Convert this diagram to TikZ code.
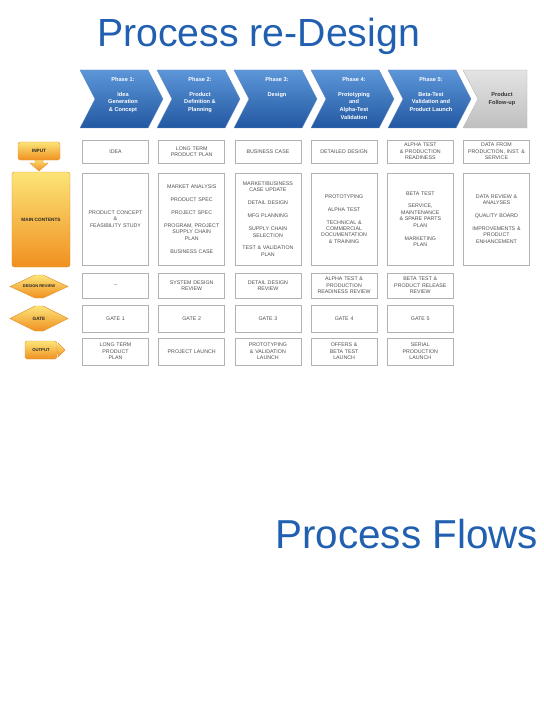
\documentclass[tikz,border=0pt]{standalone}
\usepackage{fontspec}
\setmainfont{Liberation Sans}
\definecolor{titleblue}{RGB}{33,96,176}
\definecolor{phasetop}{RGB}{92,150,216}
\definecolor{phasebot}{RGB}{34,88,162}
\definecolor{celltext}{RGB}{80,80,80}
\definecolor{iconyellow}{RGB}{252,228,120}
\definecolor{iconorange}{RGB}{240,144,32}
\definecolor{iconedge}{RGB}{228,150,50}
\tikzset{
  phase/.style={top color=phasetop, bottom color=phasebot, draw=phasebot!70!white, line width=0.3pt},
  follow/.style={top color=gray!22, bottom color=gray!50, draw=gray!60, line width=0.3pt},
  phasetext/.style={text=white, font=\fontsize{4.8}{6.6}\selectfont\bfseries, align=center, anchor=north, inner sep=0pt},
  cell/.style={draw=gray!60, fill=white, line width=0.6pt, minimum width=19.8mm, text width=18.6mm,
    align=center, inner sep=0pt, text=celltext, font=\fontsize{4.5}{5.5}\selectfont},
  inputcell/.style={cell, minimum height=6.9mm},
  maincell/.style={cell, minimum height=27.6mm},
  reviewcell/.style={cell, minimum height=7.5mm},
  gatecell/.style={cell, minimum height=8.1mm},
  outputcell/.style={cell, minimum height=8.1mm},
  icon/.style={top color=iconyellow, bottom color=iconorange, draw=iconedge, line width=0.4pt},
  icontext/.style={font=\fontsize{4}{5}\selectfont\bfseries, text=black!85, inner sep=0pt},
  heading/.style={text=titleblue, font=\fontsize{33.5}{40}\selectfont, inner sep=0pt, anchor=base west}
}
\begin{document}
\begin{tikzpicture}[x=0.3mm, y=-0.3mm]
  \useasboundingbox (0,0) rectangle (543,727);
  % titles
  \node[heading] (title) at (97,47) {Process re-Design};
  \node[heading, font=\fontsize{34.5}{40}\selectfont] (flows) at (275,548) {Process Flows};
  % phase arrows
  \draw[phase] (80,70) -- (148,70) -- (163,99) -- (148,128) -- (80,128) -- (95,99) -- cycle;
  \node[phasetext] (ph1) at (123,77) {Phase 1:\\[6pt]Idea\\Generation\\\& Concept};
  \draw[phase] (157,70) -- (225,70) -- (240,99) -- (225,128) -- (157,128) -- (172,99) -- cycle;
  \node[phasetext] (ph2) at (200,77) {Phase 2:\\[6pt]Product\\Definition \&\\Planning};
  \draw[phase] (234,70) -- (302,70) -- (317,99) -- (302,128) -- (234,128) -- (249,99) -- cycle;
  \node[phasetext] (ph3) at (277,77) {Phase 3:\\[6pt]Design};
  \draw[phase] (311,70) -- (379,70) -- (394,99) -- (379,128) -- (311,128) -- (326,99) -- cycle;
  \node[phasetext] (ph4) at (354,77) {Phase 4:\\[6pt]Prototyping\\and\\Alpha-Test\\Validation};
  \draw[phase] (388,70) -- (456,70) -- (471,99) -- (456,128) -- (388,128) -- (403,99) -- cycle;
  \node[phasetext] (ph5) at (431,77) {Phase 5:\\[6pt]Beta-Test\\Validation and\\Product Launch};
  \draw[follow] (463,70) -- (527,70) -- (527,128) -- (463,128) -- (478,99) -- cycle;
  \node[phasetext, text=black!80, anchor=center] (ph6) at (502,99) {Product\\Follow-up};
  % row icons
  \draw[icon] (35,158) -- (43,158) -- (43,163) -- (48,163) -- (39,171) -- (30,163) -- (35,163) -- cycle;
  \node[icon, icontext, rounded corners=1.5pt, minimum width=12.6mm, minimum height=5.4mm] (input) at (39,151) {INPUT};
  \node[icon, icontext, rounded corners=2pt, minimum width=17.4mm, minimum height=28.5mm] (main) at (41,219.5) {MAIN CONTENTS};
  \draw[icon] (10,286.5) -- (35,275) -- (43,275) -- (68,286.5) -- (43,298) -- (35,298) -- cycle;
  \node[icontext, font=\fontsize{3.4}{4}\selectfont\bfseries] (review) at (39,286.5) {DESIGN REVIEW};
  \draw[icon] (10,318.5) -- (35,306) -- (43,306) -- (68,318.5) -- (43,331) -- (35,331) -- cycle;
  \node[icontext] (gate) at (39,318.5) {GATE};
  \draw[icon] (54,346) -- (58,346) -- (58,343) -- (65,350) -- (58,357) -- (58,354) -- (54,354) -- cycle;
  \node[icon, icontext, font=\fontsize{3.6}{4}\selectfont\bfseries, rounded corners=1.5pt, minimum width=9.6mm, minimum height=5.4mm] (output) at (41,350) {OUTPUT};
  % input row
  \node[inputcell] (in1) at (115.5,151.5) {IDEA};
  \node[inputcell] (in2) at (191.7,151.5) {LONG TERM\\PRODUCT PLAN};
  \node[inputcell] (in3) at (267.9,151.5) {BUSINESS CASE};
  \node[inputcell] (in4) at (344.1,151.5) {DETAILED DESIGN};
  \node[inputcell] (in5) at (420.3,151.5) {ALPHA TEST\\\& PRODUCTION\\READINESS};
  \node[inputcell] (in6) at (496.5,151.5) {DATA FROM\\PRODUCTION, INST. \&\\SERVICE};
  % main contents row
  \node[maincell] (mc1) at (115.5,219) {PRODUCT CONCEPT\\\&\\FEASIBILITY STUDY};
  \node[maincell] (mc2) at (191.7,219) {MARKET ANALYSIS\\[5.5pt]PRODUCT SPEC\\[5.5pt]PROJECT SPEC\\[5.5pt]PROGRAM, PROJECT\\SUPPLY CHAIN\\PLAN\\[5.5pt]BUSINESS CASE};
  \node[maincell] (mc3) at (267.9,219) {MARKET/BUSINESS\\CASE UPDATE\\[5.5pt]DETAIL DESIGN\\[5.5pt]MFG PLANNING\\[5.5pt]SUPPLY CHAIN\\SELECTION\\[5.5pt]TEST \& VALIDATION\\PLAN};
  \node[maincell] (mc4) at (344.1,219) {PROTOTYPING\\[5.5pt]ALPHA TEST\\[5.5pt]TECHNICAL \&\\COMMERCIAL\\DOCUMENTATION\\\& TRAINING};
  \node[maincell] (mc5) at (420.3,219) {BETA TEST\\[5.5pt]SERVICE,\\MAINTENANCE\\\& SPARE PARTS\\PLAN\\[5.5pt]MARKETING\\PLAN};
  \node[maincell] (mc6) at (496.5,219) {DATA REVIEW \&\\ANALYSES\\[5.5pt]QUALITY BOARD\\[5.5pt]IMPROVEMENTS \&\\PRODUCT\\ENHANCEMENT};
  % design review row
  \node[reviewcell] (dr1) at (115.5,285.5) {--};
  \node[reviewcell] (dr2) at (191.7,285.5) {SYSTEM DESIGN\\REVIEW};
  \node[reviewcell] (dr3) at (267.9,285.5) {DETAIL DESIGN\\REVIEW};
  \node[reviewcell] (dr4) at (344.1,285.5) {ALPHA TEST \&\\PRODUCTION\\READINESS REVIEW};
  \node[reviewcell] (dr5) at (420.3,285.5) {BETA TEST \&\\PRODUCT RELEASE\\REVIEW};
  % gate row
  \node[gatecell] (g1) at (115.5,318.5) {GATE 1};
  \node[gatecell] (g2) at (191.7,318.5) {GATE 2};
  \node[gatecell] (g3) at (267.9,318.5) {GATE 3};
  \node[gatecell] (g4) at (344.1,318.5) {GATE 4};
  \node[gatecell] (g5) at (420.3,318.5) {GATE 5};
  % output row
  \node[outputcell] (out1) at (115.5,351.5) {LONG TERM\\PRODUCT\\PLAN};
  \node[outputcell] (out2) at (191.7,351.5) {PROJECT LAUNCH};
  \node[outputcell] (out3) at (267.9,351.5) {PROTOTYPING\\\& VALIDATION\\LAUNCH};
  \node[outputcell] (out4) at (344.1,351.5) {OFFERS \&\\BETA TEST\\LAUNCH};
  \node[outputcell] (out5) at (420.3,351.5) {SERIAL\\PRODUCTION\\LAUNCH};
\end{tikzpicture}
\end{document}
